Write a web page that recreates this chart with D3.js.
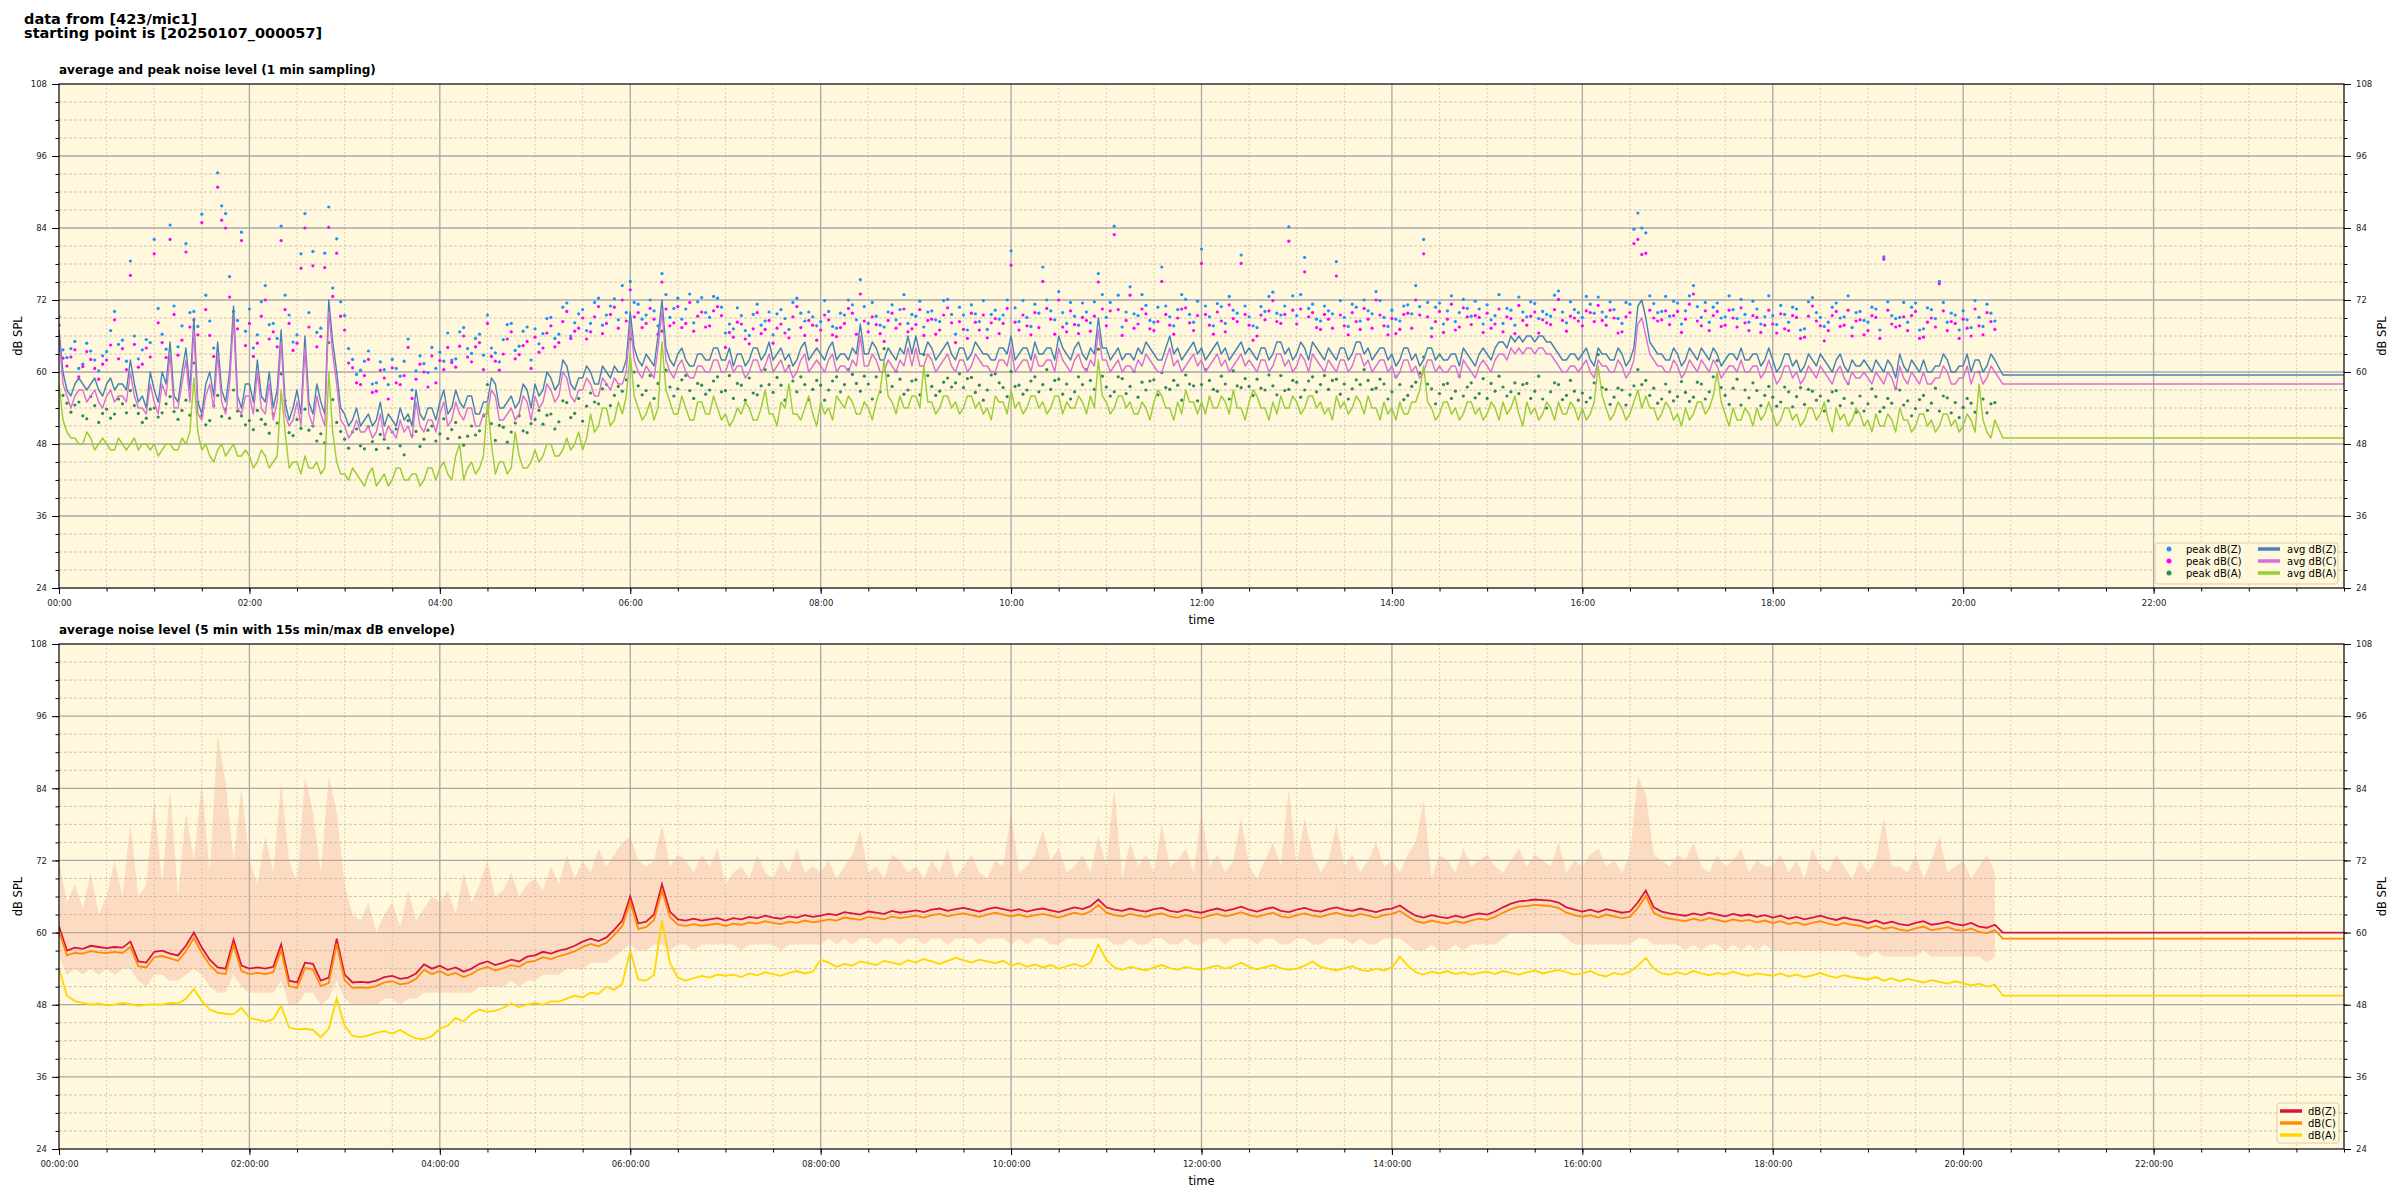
<!DOCTYPE html>
<html>
<head>
<meta charset="utf-8">
<script src="https://cdn.jsdelivr.net/npm/d3@7"></script>
<style>
  body { margin: 0; background: #fff; }
  svg { display: block; font-family: "DejaVu Sans", sans-serif; }
</style>
</head>
<body>
<svg id="chart" width="2400" height="1200"></svg>
<script>
// sample times in minutes after 00:00, data stops at 20:24, then a flat tail to 24:00
const topMinutes = d3.range(0, 1220.1, 2.5);
const bottomMinutes = d3.range(0, 1225, 5);
const tailMinutes = [1225, 1440];
const topLineMinutes = topMinutes.concat(tailMinutes);
const bottomLineMinutes = bottomMinutes.concat(tailMinutes);

// top panel: 1 min averages (read every 2.5 min), last two = flat tail
const avgZ = [
  67,60,57,56,58,59,58,57,58,59,57,56,58,59,57,58,58,57,62,58,55,56,54,60,
  57,55,60,58,65,56,55,60,64,57,69,55,53,58,60,56,65,57,55,60,71,56,54,58,
  58,55,62,56,55,60,54,57,67,55,52,54,57,53,66,55,53,58,55,53,72,65,60,54,
  53,51,52,54,51,52,53,51,52,55,51,53,52,51,54,52,53,51,57,53,52,54,54,52,
  55,57,53,54,57,55,54,56,56,53,53,55,55,59,58,54,54,55,56,54,55,58,57,54,
  58,56,57,60,59,57,58,62,61,58,57,59,59,61,60,58,58,61,60,59,61,60,60,62,
  70,64,62,61,63,62,61,66,72,64,62,61,63,64,62,61,61,63,63,62,62,64,64,62,
  62,64,61,63,63,61,62,64,64,62,63,65,62,63,64,62,63,61,62,64,65,62,63,64,
  63,62,64,65,62,63,63,62,64,63,68,63,63,65,64,62,62,64,63,62,64,63,66,63,
  66,63,63,65,64,62,63,64,65,63,62,64,64,62,63,65,64,63,63,62,62,64,64,63,
  66,62,63,64,64,62,65,63,63,64,64,62,66,64,63,62,64,65,63,62,64,63,69,64,
  64,62,63,64,62,63,63,62,64,63,65,64,63,62,62,64,66,63,64,62,63,64,65,63,
  64,62,63,64,65,63,64,62,63,64,65,63,64,63,62,64,64,62,63,65,65,63,64,62,
  63,65,64,62,65,64,63,62,64,63,62,64,64,62,63,65,65,63,64,62,63,64,64,62,
  63,61,62,64,64,62,63,61,62,64,64,62,63,62,62,63,63,61,64,63,62,61,63,64,
  63,62,64,65,65,64,66,65,66,65,66,66,65,66,66,65,65,64,63,62,62,63,63,62,
  63,64,62,61,64,63,63,62,62,64,63,61,62,64,71,72,69,65,64,63,63,62,62,64,
  63,61,62,64,63,62,64,63,62,64,63,61,62,63,63,62,64,62,62,63,63,61,62,64,
  62,60,61,63,63,61,62,60,61,63,62,61,63,62,61,60,62,63,61,60,62,61,61,62,
  61,60,62,61,60,62,61,59,63,61,60,62,61,60,62,60,60,61,61,63,62,60,60,61,
  61,63,60,62,62,60,61,63,62, 59.5,59.5];
const avgC = [
  66,58,56,54,56,57,57,55,56,57,55,54,56,57,55,56,56,55,60,56,54,54,53,58,
  55,53,58,56,63,54,54,58,62,55,67,53,52,56,58,54,63,55,53,58,69,54,53,56,
  56,53,60,54,53,58,52,55,65,53,51,52,55,51,64,53,51,56,53,51,70,63,58,52,
  51,49,50,52,50,50,51,49,50,53,49,51,50,49,52,50,51,49,55,51,50,52,52,50,
  53,55,51,52,55,53,52,54,54,51,51,53,53,57,56,52,52,53,54,52,53,56,55,52,
  56,54,55,58,57,55,56,60,59,56,55,57,57,59,58,56,56,59,58,57,59,58,58,60,
  68,62,60,59,61,60,59,64,70,62,60,59,61,62,60,59,59,61,61,60,60,62,62,60,
  60,62,60,61,61,59,60,62,62,60,61,63,60,61,62,60,61,59,60,62,63,60,61,62,
  61,60,62,63,60,61,61,60,62,61,66,61,61,63,62,60,60,62,61,60,62,61,64,61,
  64,61,61,63,62,60,61,62,63,61,60,62,62,60,61,63,62,61,61,60,60,62,62,61,
  64,60,61,62,62,60,63,61,61,62,62,60,64,62,61,60,62,63,61,60,62,61,67,62,
  62,60,61,62,60,61,61,60,62,61,63,62,61,60,60,62,64,61,62,60,61,62,63,61,
  62,60,61,62,63,61,62,60,61,62,63,61,62,61,60,62,62,60,61,63,63,61,62,60,
  61,63,62,60,63,62,61,60,62,61,60,62,62,60,61,63,63,61,62,60,61,62,62,60,
  61,59,60,62,62,60,61,59,60,62,62,60,61,60,60,61,61,59,62,61,60,59,61,62,
  61,60,62,63,63,62,64,63,64,63,64,64,63,64,64,63,63,62,61,60,60,61,61,60,
  61,62,60,59,62,61,61,60,60,62,61,59,60,62,68,69,66,63,62,61,61,60,60,62,
  61,59,60,62,61,60,62,61,60,62,61,59,60,61,61,60,62,60,60,61,61,59,60,62,
  60,58,59,61,61,59,60,58,59,61,60,59,61,60,59,58,60,61,59,58,60,59,59,60,
  59,58,60,59,58,60,59,57,61,59,58,60,59,58,60,58,58,59,59,61,60,58,58,59,
  59,61,58,60,60,58,59,61,60, 58,58];
const avgA = [
  58,52,50,49,49,48,48,50,49,47,48,49,48,47,47,49,48,47,48,49,47,48,48,47,
  48,46,47,48,48,47,47,49,48,50,59,50,47,48,46,45,47,48,46,47,48,46,46,47,
  46,44,45,47,46,44,45,46,57,50,44,45,45,43,46,44,44,45,43,44,60,50,45,43,
  43,42,44,43,42,41,43,44,41,42,43,41,42,44,44,42,42,43,43,41,42,44,44,42,
  44,45,43,42,46,48,42,44,45,43,44,46,55,48,43,45,45,43,44,50,46,44,44,45,
  47,45,46,48,48,46,46,47,49,47,48,50,47,49,53,50,51,54,54,51,52,55,53,56,
  63,56,54,52,53,55,52,54,65,57,55,53,53,56,54,52,52,55,55,53,53,56,54,52,
  53,51,52,54,53,55,54,52,52,54,57,53,53,51,55,54,58,53,53,52,54,56,53,51,
  55,53,54,52,56,55,54,56,55,53,53,55,54,52,55,57,62,56,55,53,56,54,54,56,
  56,54,61,55,55,53,54,56,56,54,55,53,54,56,56,54,55,53,54,52,56,55,55,53,
  57,54,55,53,54,56,56,54,55,53,54,56,56,53,55,54,54,56,55,53,56,54,62,56,
  55,53,54,56,56,54,55,53,53,55,54,52,55,57,56,54,54,52,55,53,57,55,55,53,
  55,53,56,54,54,56,55,53,57,54,54,52,55,57,56,54,54,52,55,53,56,54,54,56,
  55,53,54,56,56,54,55,53,54,52,56,54,55,53,54,56,55,53,56,54,54,52,55,53,
  54,52,55,53,53,55,55,57,61,55,54,52,53,55,55,53,54,52,53,55,55,53,54,52,
  53,55,54,52,55,53,54,56,53,51,55,53,54,52,53,55,54,52,55,53,53,55,54,52,
  54,52,53,55,61,56,54,52,53,55,54,52,53,55,57,54,56,54,54,52,53,55,54,52,
  53,51,54,52,53,55,55,53,54,56,60,55,53,51,54,52,52,54,53,51,54,52,53,55,
  53,51,52,54,54,52,53,51,52,54,54,52,53,55,52,50,54,52,53,51,52,54,53,51,
  52,50,53,51,51,53,52,50,54,52,52,50,51,53,53,51,52,50,51,53,53,51,52,50,
  51,53,52,50,58,52,50,49,52, 49,49];

// 1 min peaks (read every 2.5 min)
const peakZ = [
  69.2,63.7,62.4,63.9,65.1,60.6,61.3,64.8,63.5,62.0,60.2,62.7,63.4,66.9,70.1,64.6,65.3,61.8,78.5,66.0,62.2,63.7,65.4,64.9,
  82.1,70.6,66.3,63.8,84.5,71.0,64.2,67.7,81.4,69.9,70.1,67.6,86.3,72.8,68.5,64.0,93.2,87.7,86.4,75.9,70.1,68.6,83.3,66.8,
  70.5,64.0,66.2,71.7,74.4,67.9,68.1,65.6,84.3,72.8,69.5,65.0,66.2,79.7,86.4,69.9,80.1,66.6,67.3,79.8,87.5,74.0,82.2,71.7,
  69.4,63.9,62.1,59.6,60.3,61.8,63.5,58.0,58.2,61.7,60.4,57.9,62.1,60.6,59.3,61.8,65.5,57.0,60.2,62.7,61.4,59.9,64.1,60.6,
  63.3,61.8,66.5,62.0,62.2,66.7,67.4,63.9,63.1,65.6,66.3,62.8,69.5,64.0,63.2,61.7,65.4,67.9,68.1,63.6,64.3,66.8,67.5,62.0,
  67.2,64.7,66.4,68.9,69.1,65.6,66.3,70.8,71.5,66.0,68.2,69.7,70.4,66.9,68.1,71.6,72.3,67.8,69.5,71.0,72.2,68.7,74.4,69.9,
  75.1,71.6,71.3,68.8,69.5,72.0,70.2,67.7,76.4,72.9,69.1,70.6,72.3,68.8,70.5,73.0,68.2,71.7,72.4,69.9,69.1,72.6,72.3,70.8,
  66.5,68.0,67.2,70.7,69.4,66.9,66.1,69.6,71.3,67.8,68.5,70.0,66.2,69.7,70.4,68.9,67.1,71.6,72.3,69.8,68.5,70.0,69.2,67.7,
  68.4,71.9,70.1,67.6,67.3,69.8,69.5,72.0,71.2,68.7,75.4,70.9,68.1,71.6,69.3,67.8,67.5,70.0,71.2,68.7,70.4,72.9,68.1,69.6,
  69.3,71.8,67.5,70.0,70.2,68.7,68.4,71.9,72.1,69.6,66.3,70.8,69.5,67.0,71.2,69.7,68.4,71.9,67.1,69.6,70.3,68.8,69.5,72.0,
  80.2,70.7,68.4,71.9,69.1,67.6,71.3,69.8,77.5,72.0,70.2,68.7,73.4,69.9,68.1,71.6,69.3,67.8,71.5,70.0,68.2,71.7,76.4,72.9,
  69.1,71.6,84.3,72.8,67.5,70.0,74.2,69.7,69.4,72.9,71.1,68.6,68.3,70.8,77.5,71.0,69.2,67.7,70.4,72.9,72.1,69.6,68.3,71.8,
  80.5,71.0,69.2,67.7,71.4,70.9,68.1,72.6,70.3,69.8,79.5,71.0,69.2,67.7,67.4,70.9,70.1,72.6,73.3,69.8,69.5,71.0,84.2,72.7,
  69.4,72.9,79.1,70.6,71.3,68.8,68.5,71.0,70.2,69.7,78.4,71.9,69.1,67.6,71.3,70.8,68.5,72.0,70.2,69.7,73.4,71.9,69.1,67.6,
  70.3,68.8,68.5,71.0,71.2,69.7,74.4,70.9,82.1,71.6,67.3,70.8,71.5,68.0,70.2,72.7,68.4,69.9,72.1,70.6,69.3,71.8,70.5,68.0,
  71.2,68.7,69.4,72.9,68.1,70.6,70.3,67.8,72.5,70.0,69.2,71.7,71.4,68.9,70.1,69.6,69.3,72.8,73.5,70.0,68.2,71.7,70.4,69.9,
  69.1,72.6,71.3,69.8,72.5,70.0,69.2,71.7,70.4,68.9,68.1,71.6,71.3,83.8,86.5,84.0,83.2,72.7,71.4,69.9,70.1,72.6,69.3,71.8,
  71.5,68.0,70.2,72.7,74.4,70.9,69.1,71.6,68.3,70.8,71.5,69.0,69.2,72.7,70.4,68.9,72.1,69.6,68.3,71.8,70.5,68.0,69.2,72.7,
  69.4,67.9,71.1,69.6,68.3,70.8,70.5,67.0,67.2,71.7,72.4,69.9,69.1,67.6,68.3,70.8,71.5,69.0,69.2,72.7,67.4,69.9,70.1,68.6,
  68.3,70.8,70.5,67.0,79.2,71.7,69.4,68.9,69.1,71.6,68.3,70.8,71.5,67.0,67.2,70.7,70.4,68.9,75.1,71.6,68.3,69.8,69.5,67.0,
  70.2,68.7,67.4,71.9,69.1,67.6,71.3,69.8,68.5];
const peakC = [
  67.8,62.3,61.0,62.5,63.7,59.2,60.9,63.4,62.1,60.6,58.8,61.3,62.0,64.5,68.7,62.2,63.9,60.4,76.1,64.6,60.8,61.3,64.0,62.5,
  79.7,68.2,64.9,62.4,82.1,69.6,62.8,65.3,80.0,67.5,68.7,66.2,84.9,70.4,66.1,62.6,90.8,85.3,84.0,72.5,68.7,67.2,81.9,64.4,
  68.1,62.6,64.8,69.3,72.0,65.5,66.7,64.2,81.9,70.4,68.1,63.6,64.8,77.3,84.0,67.5,77.7,64.2,65.9,77.4,84.1,72.6,79.8,69.3,
  67.0,61.5,60.7,58.2,57.9,59.4,62.1,56.6,56.8,60.3,59.0,55.5,60.7,58.2,57.9,59.4,64.1,55.6,58.8,61.3,60.0,57.5,62.7,58.2,
  61.9,60.4,64.1,61.6,60.8,64.3,66.0,62.5,61.7,64.2,64.9,60.4,68.1,62.6,61.8,60.3,63.0,65.5,66.7,62.2,62.9,64.4,65.1,60.6,
  65.8,63.3,64.0,66.5,67.7,64.2,64.9,68.4,70.1,65.6,66.8,67.3,69.0,65.5,66.7,69.2,70.9,66.4,68.1,69.6,70.8,67.3,72.0,68.5,
  73.7,69.2,69.9,67.4,68.1,70.6,68.8,66.3,75.0,70.5,67.7,68.2,70.9,67.4,68.1,71.6,66.8,69.3,70.0,67.5,67.7,70.2,70.9,69.4,
  64.1,66.6,65.8,68.3,68.0,65.5,64.7,67.2,69.9,66.4,67.1,68.6,64.8,67.3,68.0,66.5,65.7,69.2,70.9,67.4,66.1,68.6,67.8,65.3,
  67.0,69.5,68.7,66.2,65.9,67.4,68.1,70.6,69.8,66.3,73.0,68.5,66.7,69.2,67.9,66.4,65.1,68.6,69.8,67.3,68.0,70.5,66.7,67.2,
  67.9,70.4,66.1,68.6,68.8,66.3,67.0,69.5,70.7,68.2,64.9,68.4,67.1,65.6,69.8,68.3,67.0,69.5,65.7,68.2,68.9,66.4,68.1,70.6,
  77.8,68.3,67.0,69.5,67.7,66.2,69.9,67.4,75.1,70.6,68.8,66.3,72.0,67.5,66.7,70.2,67.9,66.4,69.1,68.6,66.8,69.3,75.0,70.5,
  67.7,70.2,82.9,70.4,66.1,68.6,72.8,67.3,68.0,70.5,69.7,67.2,66.9,68.4,75.1,69.6,67.8,66.3,69.0,70.5,70.7,68.2,66.9,69.4,
  78.1,69.6,67.8,66.3,70.0,68.5,66.7,71.2,68.9,68.4,78.1,69.6,67.8,65.3,66.0,69.5,68.7,70.2,71.9,68.4,68.1,69.6,81.8,70.3,
  68.0,70.5,76.7,69.2,69.9,67.4,67.1,69.6,68.8,67.3,76.0,69.5,67.7,66.2,69.9,68.4,67.1,70.6,68.8,67.3,72.0,69.5,67.7,66.2,
  68.9,66.4,67.1,69.6,69.8,67.3,72.0,69.5,79.7,69.2,65.9,68.4,70.1,66.6,68.8,71.3,67.0,67.5,70.7,69.2,67.9,69.4,69.1,66.6,
  69.8,67.3,68.0,70.5,66.7,69.2,68.9,66.4,71.1,68.6,67.8,69.3,70.0,66.5,68.7,68.2,67.9,70.4,72.1,68.6,66.8,69.3,69.0,68.5,
  67.7,70.2,69.9,68.4,71.1,68.6,67.8,70.3,69.0,66.5,66.7,69.2,69.9,81.4,82.1,79.6,79.8,70.3,69.0,68.5,68.7,70.2,67.9,69.4,
  70.1,66.6,68.8,71.3,73.0,68.5,67.7,70.2,66.9,69.4,70.1,67.6,67.8,70.3,69.0,67.5,70.7,68.2,66.9,69.4,69.1,66.6,67.8,70.3,
  68.0,66.5,69.7,67.2,66.9,69.4,69.1,65.6,65.8,69.3,71.0,68.5,67.7,65.2,66.9,69.4,70.1,67.6,67.8,70.3,66.0,68.5,68.7,66.2,
  66.9,69.4,69.1,65.6,78.8,70.3,68.0,67.5,67.7,69.2,66.9,69.4,70.1,65.6,65.8,68.3,69.0,67.5,74.7,70.2,66.9,68.4,68.1,65.6,
  68.8,67.3,66.0,70.5,67.7,66.2,69.9,68.4,67.1];
const peakA = [
  63.6,56.1,54.8,53.3,54.5,55.0,52.7,52.2,55.9,54.4,51.6,53.1,53.8,52.3,53.0,55.5,54.7,53.2,56.9,54.4,53.1,51.6,52.3,53.8,
  54.0,52.5,53.2,54.7,55.9,53.4,52.1,53.6,55.3,52.8,61.5,55.0,52.7,51.2,51.9,54.4,56.1,52.6,53.8,52.3,57.0,53.5,52.7,51.2,
  51.9,50.4,53.6,52.1,51.3,49.8,53.0,51.5,59.7,55.2,49.9,49.4,52.1,50.6,53.8,50.3,51.0,48.5,49.7,48.2,64.9,55.4,51.6,50.1,
  48.8,47.3,50.0,50.5,47.7,47.2,50.9,48.4,47.1,49.6,48.8,47.3,50.0,50.5,47.7,46.2,51.9,49.4,50.1,47.6,48.8,50.3,51.0,48.5,
  49.7,52.2,48.9,50.4,51.6,49.1,47.8,49.3,51.0,49.5,50.2,52.7,57.9,51.4,48.6,51.1,50.8,48.3,50.0,51.5,52.7,50.2,49.9,51.4,
  52.1,53.6,51.3,52.8,53.0,50.5,51.7,55.2,54.9,52.4,53.1,55.6,51.8,54.3,56.5,55.0,54.7,57.2,57.9,54.4,56.1,57.6,56.8,58.7,
  65.5,60.0,57.7,56.2,56.9,59.4,55.6,58.1,66.8,60.3,57.5,56.0,57.2,58.7,59.4,56.9,55.6,58.1,57.8,56.3,57.0,58.5,59.2,56.7,
  56.9,59.4,55.6,58.1,57.8,55.3,59.0,56.5,56.2,57.7,60.4,57.9,56.6,59.1,57.8,55.3,61.0,58.5,56.7,59.2,57.9,55.4,57.1,58.6,
  57.8,55.3,57.0,58.5,59.2,56.7,57.9,60.4,59.6,58.1,56.8,59.3,58.0,55.5,59.2,56.7,63.9,59.4,57.6,60.1,58.8,56.3,57.0,58.5,
  58.7,56.2,62.9,59.4,57.6,56.1,56.8,58.3,59.0,57.5,58.2,59.7,57.4,58.9,59.1,56.6,57.8,55.3,57.0,59.5,59.7,58.2,57.4,55.9,
  60.1,57.6,57.8,56.3,57.0,58.5,59.2,56.7,57.9,60.4,57.1,58.6,58.8,56.3,58.0,55.5,56.7,59.2,57.9,60.4,58.6,57.1,63.8,59.3,
  57.5,56.0,56.7,59.2,58.9,56.4,57.6,60.1,55.8,58.3,57.0,58.5,58.7,56.2,59.9,57.4,57.1,58.6,57.8,55.3,59.5,58.0,57.7,55.2,
  57.9,60.4,58.6,57.1,56.8,59.3,58.0,55.5,60.2,57.7,57.4,58.9,57.6,56.1,58.8,57.3,57.0,59.5,57.7,56.2,59.4,56.9,57.1,58.6,
  58.3,55.8,57.0,58.5,59.2,56.7,57.9,59.4,57.1,58.6,58.8,56.3,58.0,55.5,57.2,58.7,57.9,60.4,58.6,57.1,57.3,58.8,58.0,55.5,
  56.7,59.2,57.9,55.4,56.1,57.6,58.3,59.8,62.5,58.0,57.2,54.7,56.4,57.9,58.1,55.6,56.8,59.3,56.0,57.5,58.2,55.7,56.4,58.9,
  55.6,58.1,56.8,59.3,57.5,56.0,56.7,58.2,56.4,57.9,58.1,55.6,56.8,59.3,55.5,54.0,56.7,58.2,57.9,55.4,56.1,58.6,56.8,55.3,
  56.5,55.0,55.7,58.2,62.9,57.4,57.1,54.6,55.8,57.3,57.0,54.5,56.2,57.7,60.4,57.9,58.6,56.1,57.3,54.8,55.5,58.0,56.7,55.2,
  55.9,58.4,56.6,55.1,55.8,58.3,58.0,55.5,56.7,59.2,61.9,57.4,56.1,54.6,57.3,58.8,54.5,57.0,55.7,58.2,56.9,54.4,56.1,57.6,
  55.8,54.3,55.0,57.5,56.7,54.2,55.9,57.4,54.6,57.1,56.8,55.3,56.0,53.5,55.2,56.7,56.9,54.4,55.6,58.1,54.8,53.3,56.0,53.5,
  54.7,57.2,55.9,53.4,54.1,55.6,54.8,57.3,57.0,54.5,55.2,52.7,53.9,55.4,56.1,53.6,54.8,57.3,53.5,56.0,55.7,53.2,54.9,52.4,
  54.1,55.6,54.8,53.3,60.0,55.5,53.2,54.7,54.9];

// bottom panel: 5 min averages, last two = flat tail
const dbZ = [61.0,57.0,57.5,57.3,57.8,57.6,57.4,57.6,57.5,58.5,55.2,55.0,
  56.8,57.0,56.5,56.2,57.8,60.0,57.5,55.5,54.2,54.0,58.8,54.5,
  54.0,54.2,54.0,54.3,58.0,52.0,51.7,55.0,54.8,52.0,52.5,59.0,
  53.0,51.7,51.8,51.7,52.0,52.6,52.8,52.3,52.5,53.2,54.7,54.0,
  54.5,53.8,54.2,53.5,54.0,54.8,55.2,54.6,55.0,55.5,55.2,56.0,
  56.2,56.8,56.5,57.0,57.3,57.8,58.5,59.0,58.6,59.2,60.5,62.0,
  66.0,61.5,61.8,63.0,68.0,63.5,62.2,62.0,62.3,62.0,62.2,62.4,
  62.0,62.4,62.2,62.6,62.4,62.8,62.5,62.3,62.7,62.5,62.9,62.6,
  62.8,63.1,62.9,63.4,63.2,63.0,63.5,63.3,63.1,63.6,63.3,63.5,
  63.7,63.4,63.8,64.0,63.6,63.9,64.1,63.8,63.5,63.9,64.2,63.9,
  63.6,63.9,63.5,63.8,64.0,63.7,63.4,63.8,64.2,63.9,64.4,65.5,
  64.2,63.8,63.6,64.0,63.7,63.5,63.9,64.1,63.6,63.4,63.8,63.5,
  63.3,63.7,64.0,63.6,63.9,64.3,63.8,63.5,63.9,64.2,63.6,63.4,
  63.8,64.1,63.7,63.5,63.9,64.2,63.8,63.6,64.0,63.7,63.4,63.8,
  64.0,64.5,63.6,62.8,62.5,62.9,62.6,62.4,62.8,62.5,62.9,63.2,
  63.0,63.5,64.2,64.8,65.2,65.3,65.5,65.4,65.3,65.0,64.2,63.8,
  63.5,63.8,63.4,63.9,63.6,63.3,63.5,65.0,67.0,64.2,63.5,63.2,
  63.0,62.8,63.2,62.9,63.3,63.0,62.7,63.1,62.8,63.0,62.6,62.9,
  62.5,62.8,62.3,62.6,62.2,62.5,62.8,62.4,62.1,62.5,62.2,62.0,
  61.6,62.0,61.5,61.8,61.4,61.2,61.6,61.9,61.3,61.5,61.8,61.4,
  61.2,61.6,61.0,60.8,61.3, 60.0,60.0];
const dbC = [60.2,56.2,56.6,56.5,56.9,56.7,56.6,56.8,56.6,57.6,54.4,54.2,
  55.9,56.1,55.7,55.3,56.9,59.1,56.6,54.6,53.3,53.1,57.9,53.6,
  53.1,53.3,53.1,53.4,57.1,51.1,50.8,54.1,53.9,51.1,51.6,58.1,
  52.1,50.8,50.9,50.8,51.1,51.7,51.9,51.4,51.6,52.3,53.8,53.1,
  53.6,52.9,53.3,52.6,53.1,53.9,54.3,53.7,54.1,54.6,54.3,55.1,
  55.3,55.9,55.6,56.1,56.4,56.9,57.6,58.1,57.7,58.3,59.6,61.1,
  65.1,60.6,60.9,62.1,67.0,62.6,61.3,61.1,61.4,61.1,61.3,61.5,
  61.1,61.5,61.3,61.7,61.5,61.9,61.6,61.4,61.8,61.6,62.0,61.7,
  61.9,62.2,62.0,62.5,62.3,62.1,62.6,62.4,62.2,62.7,62.4,62.6,
  62.8,62.5,62.9,63.1,62.7,63.0,63.2,62.9,62.6,63.0,63.3,63.0,
  62.7,63.0,62.6,62.9,63.1,62.8,62.5,62.9,63.3,63.0,63.5,64.6,
  63.3,62.9,62.7,63.1,62.8,62.6,63.0,63.2,62.7,62.5,62.9,62.6,
  62.4,62.8,63.1,62.7,63.0,63.4,62.9,62.6,63.0,63.3,62.7,62.5,
  62.9,63.2,62.8,62.6,63.0,63.3,62.9,62.7,63.1,62.8,62.5,62.9,
  63.1,63.6,62.7,61.9,61.6,62.0,61.7,61.5,61.9,61.6,62.0,62.3,
  62.1,62.6,63.3,63.9,64.3,64.4,64.6,64.5,64.4,64.1,63.3,62.9,
  62.6,62.9,62.5,63.0,62.7,62.4,62.6,64.1,66.1,63.3,62.6,62.3,
  62.1,61.9,62.3,62.0,62.4,62.1,61.8,62.2,61.9,62.1,61.7,62.0,
  61.6,61.9,61.4,61.7,61.3,61.6,61.9,61.5,61.2,61.6,61.3,61.1,
  60.7,61.1,60.6,60.9,60.5,60.3,60.7,61.0,60.4,60.6,60.9,60.5,
  60.3,60.7,60.1,59.9,60.4, 59.0,59.0];
const dbA = [54.0,49.5,48.6,48.3,48.0,48.2,47.9,48.0,48.3,48.1,47.8,48.0,
  48.1,48.0,48.3,48.2,49.0,50.6,48.6,47.2,46.7,46.5,46.4,47.5,
  45.8,45.5,45.2,45.6,47.8,44.2,43.9,44.0,43.8,42.6,44.0,49.0,
  44.5,42.8,42.6,42.9,43.3,43.6,43.2,43.8,43.0,42.4,42.3,42.8,
  44.0,44.5,45.8,45.2,46.5,47.2,46.8,47.0,47.5,48.2,47.6,48.0,
  48.3,48.0,48.6,48.5,49.0,49.5,49.2,50.0,49.8,51.0,50.5,51.5,
  57.0,52.2,52.0,53.0,62.0,55.0,52.5,52.0,52.4,52.8,52.5,53.0,
  52.8,53.0,52.6,53.2,52.9,53.4,53.1,52.8,53.3,53.6,53.2,53.5,
  55.5,55.0,54.3,54.8,54.5,55.2,54.9,54.6,55.3,55.0,54.7,55.4,
  55.0,55.6,55.2,54.8,55.3,55.8,55.4,55.0,55.5,55.2,54.9,55.3,
  54.5,54.9,54.3,54.7,54.2,54.6,54.0,54.4,54.8,54.3,55.0,58.0,
  55.5,54.2,53.8,54.3,54.0,53.7,54.2,54.6,54.1,53.8,54.3,54.0,
  53.8,54.2,54.5,54.0,54.4,55.0,54.3,53.9,54.2,54.6,54.1,53.8,
  54.0,54.5,55.2,54.3,54.0,53.7,54.1,54.4,53.8,53.6,54.0,53.7,
  54.2,56.0,54.5,53.4,53.0,53.5,53.2,53.6,53.1,53.4,53.0,53.3,
  53.5,53.1,53.6,53.3,53.0,53.4,53.7,53.2,53.5,53.8,53.4,53.0,
  53.2,53.6,53.0,52.7,53.3,53.0,53.5,54.5,55.8,54.0,53.2,53.0,
  53.4,53.0,53.6,53.2,52.9,53.3,53.0,53.5,53.1,52.8,53.2,53.0,
  52.8,53.2,52.7,53.0,52.6,52.9,53.3,52.8,52.5,52.9,52.6,52.4,
  52.2,52.6,52.0,52.4,51.9,52.3,52.0,51.7,52.1,51.8,51.5,51.9,
  51.6,51.2,51.5,51.0,51.3, 49.5,49.5];

// 15 s min/max envelope (read every 5 min)
const envMax = [72,65,68,64,70,63,66,72,66,78,66,68, 82,68,84,66,80,72,85,70,93,85,72,84,
  72,68,76,70,85,72,68,86,80,70,86,80, 68,63,62,65,60,63,65,61,67,62,64,66,
  65,67,63,70,65,68,72,66,67,70,66,68, 69,67,71,68,73,69,72,70,74,71,73,75,
  76,72,71,72,78,71,73,72,70,73,71,74, 68,70,71,69,73,70,69,72,70,74,70,71,
  70,72,69,71,73,77,70,71,69,73,72,70, 71,69,72,70,74,69,71,73,70,69,72,71,
  80,70,71,73,77,72,74,70,71,73,70,76, 71,84,69,75,71,73,70,78,71,72,74,70,
  80,71,73,70,72,79,71,69,72,75,71,84, 71,79,73,70,72,78,71,73,70,72,75,71,
  72,70,73,75,82,69,73,72,70,74,71,72, 73,71,70,72,74,71,73,72,71,75,70,72,
  71,73,74,71,72,70,73,86,83,73,72,71, 73,72,75,71,70,73,71,72,74,70,72,71,
  71,73,70,72,69,74,71,70,73,71,69,72, 70,72,79,71,71,70,73,69,72,76,70,71,
  72,69,71,73,70];
const envMin = [56,53,54,53,54,53,54,53,54,54,52,51, 53,53,52,52,53,54,53,51,50,50,53,51,
  50,50,50,50,52,48,48,50,50,48,49,52, 49,48,48,48,48,49,49,48,49,49,50,50,
  50,50,50,50,50,51,51,51,51,52,51,52, 52,53,53,53,54,54,54,55,55,55,56,57,
  58,57,57,58,58,57,58,58,57,58,58,58, 58,58,57,58,58,58,58,57,58,58,58,58,
  58,59,58,59,58,59,59,58,59,59,58,59, 59,58,59,59,58,59,59,59,58,59,59,59,
  58,59,58,59,59,58,58,59,59,59,59,59, 59,58,58,59,58,58,59,59,58,58,59,58,
  58,59,59,58,59,59,59,58,59,59,58,58, 59,59,58,58,59,59,59,58,59,58,58,59,
  59,59,58,57,57,58,57,57,58,57,58,58, 58,58,59,60,60,60,60,60,60,60,59,58,
  58,58,58,58,58,58,58,59,59,58,58,58, 58,57,58,57,58,58,57,58,57,58,57,58,
  57,57,57,57,57,57,57,57,57,57,57,56, 56,57,56,56,56,56,56,57,56,56,56,56,
  56,56,56,55,56];

const majorHours = d3.range(0, 1440, 120);
const minorHalfHours = d3.range(0, 1441, 30);
const majorDb = d3.range(24, 109, 12);
const minorDb = d3.range(24, 109, 3);

const topSeries = [
  { name: "avg dB(Z)", values: avgZ, color: "#4682b4" },
  { name: "avg dB(C)", values: avgC, color: "#da70d6" },
  { name: "avg dB(A)", values: avgA, color: "#9acd32" }
];
const topPeaks = [
  { name: "peak dB(Z)", values: peakZ, color: "#1e90ff" },
  { name: "peak dB(C)", values: peakC, color: "#ff00ff" },
  { name: "peak dB(A)", values: peakA, color: "#2e8b57" }
];
const bottomSeries = [
  { name: "dB(Z)", values: dbZ, color: "#dc143c" },
  { name: "dB(C)", values: dbC, color: "#ff8c00" },
  { name: "dB(A)", values: dbA, color: "#ffd700" }
];

const plotLeft = 59, plotRight = 2344;
const bg = "#fff8dc";
const pad2 = d3.format("02");
const svg = d3.select("#chart");

svg.append("rect").attr("width", 2400).attr("height", 1200).attr("fill", "#fff");

const x = d3.scaleLinear([0, 1440], [plotLeft, plotRight]);

svg.append("text").attr("x", 24).attr("y", 24)
  .attr("font-size", "14.5px").attr("font-weight", "bold").text("data from [423/mic1]");
svg.append("text").attr("x", 24).attr("y", 38)
  .attr("font-size", "14.5px").attr("font-weight", "bold").text("starting point is [20250107_000057]");

function panel(id, top, bottom, title, tickFmt) {
  const y = d3.scaleLinear([24, 108], [bottom, top]);
  const g = svg.append("g");
  g.append("rect").attr("x", plotLeft).attr("y", top)
    .attr("width", plotRight - plotLeft).attr("height", bottom - top).attr("fill", bg);

  // minor grid
  g.selectAll(".mgx").data(minorHalfHours.filter(m => m % 120 !== 0)).join("line")
    .attr("x1", d => x(d)).attr("x2", d => x(d)).attr("y1", top).attr("y2", bottom)
    .attr("stroke", "#cfc6ad").attr("stroke-width", 0.8).attr("stroke-dasharray", "2,2");
  g.selectAll(".mgy").data(minorDb.filter(v => v % 12 !== 0)).join("line")
    .attr("x1", plotLeft).attr("x2", plotRight).attr("y1", d => y(d)).attr("y2", d => y(d))
    .attr("stroke", "#bdb7a6").attr("stroke-width", 0.8).attr("stroke-dasharray", "3,2");
  // major grid
  g.selectAll(".Mgx").data(majorHours.filter(m => m > 0)).join("line")
    .attr("x1", d => x(d)).attr("x2", d => x(d)).attr("y1", top).attr("y2", bottom)
    .attr("stroke", "#a8a8a8").attr("stroke-width", 1.3);
  g.selectAll(".Mgy").data(majorDb.filter(v => v > 24 && v < 108)).join("line")
    .attr("x1", plotLeft).attr("x2", plotRight).attr("y1", d => y(d)).attr("y2", d => y(d))
    .attr("stroke", "#a8a8a8").attr("stroke-width", 1.3);

  svg.append("clipPath").attr("id", id).append("rect")
    .attr("x", plotLeft).attr("y", top).attr("width", plotRight - plotLeft).attr("height", bottom - top);
  const data = svg.append("g").attr("clip-path", `url(#${id})`);

  const axes = svg.append("g");
  const styleAxis = sel => {
    sel.select(".domain").remove();
    sel.selectAll("text").attr("font-family", "DejaVu Sans").attr("font-size", "8.5px").attr("fill", "#222");
    sel.selectAll("line").attr("stroke", "#000");
  };
  axes.append("g").attr("transform", `translate(${plotLeft},0)`)
    .call(d3.axisLeft(y).tickValues(minorDb).tickSize(3.5).tickFormat("")).call(styleAxis);
  axes.append("g").attr("transform", `translate(${plotLeft},0)`)
    .call(d3.axisLeft(y).tickValues(majorDb).tickSize(7).tickPadding(5)).call(styleAxis);
  axes.append("g").attr("transform", `translate(${plotRight},0)`)
    .call(d3.axisRight(y).tickValues(minorDb).tickSize(3.5).tickFormat("")).call(styleAxis);
  axes.append("g").attr("transform", `translate(${plotRight},0)`)
    .call(d3.axisRight(y).tickValues(majorDb).tickSize(7).tickPadding(5)).call(styleAxis);
  axes.append("g").attr("transform", `translate(0,${bottom})`)
    .call(d3.axisBottom(x).tickValues(minorHalfHours).tickSize(3.5).tickFormat("")).call(styleAxis);
  axes.append("g").attr("transform", `translate(0,${bottom})`)
    .call(d3.axisBottom(x).tickValues(majorHours).tickSize(6).tickPadding(6).tickFormat(tickFmt)).call(styleAxis);

  svg.append("text").attr("x", plotLeft).attr("y", top - 10)
    .attr("font-size", "12px").attr("font-weight", "bold").text(title);
  svg.append("text").attr("x", (plotLeft + plotRight) / 2).attr("y", bottom + 36)
    .attr("text-anchor", "middle").attr("font-size", "11.5px").text("time");
  [22, 2386].forEach(lx => svg.append("text")
    .attr("transform", `translate(${lx},${(top + bottom) / 2}) rotate(-90)`)
    .attr("text-anchor", "middle").attr("font-size", "11.5px").text("dB SPL"));

  return { y, data, top, bottom };
}

const fmtTop = m => `${pad2(Math.floor(m / 60))}:${pad2(m % 60)}`;
const fmtBottom = m => `${pad2(Math.floor(m / 60))}:${pad2(m % 60)}:00`;

// ---- top panel
const p1 = panel("clipTop", 84, 588, "average and peak noise level (1 min sampling)", fmtTop);
topPeaks.forEach(s => {
  p1.data.append("g").selectAll("circle").data(s.values).join("circle")
    .attr("cx", (d, i) => x(topMinutes[i])).attr("cy", d => p1.y(d))
    .attr("r", 1.6).attr("fill", s.color);
});
topSeries.forEach(s => {
  const line = d3.line().x((d, i) => x(topLineMinutes[i])).y(d => p1.y(d));
  p1.data.append("path").attr("d", line(s.values))
    .attr("fill", "none").attr("stroke", s.color).attr("stroke-width", 1.4)
    .attr("stroke-linejoin", "round");
});

// ---- bottom panel
const p2 = panel("clipBottom", 644, 1149, "average noise level (5 min with 15s min/max dB envelope)", fmtBottom);
const env = d3.area()
  .x((d, i) => x(bottomMinutes[i]))
  .y0((d, i) => p2.y(envMin[i]))
  .y1(d => p2.y(d));
p2.data.append("path").attr("d", env(envMax))
  .attr("fill", "#f4a08a").attr("fill-opacity", 0.32);
bottomSeries.forEach(s => {
  const line = d3.line().x((d, i) => x(bottomLineMinutes[i])).y(d => p2.y(d));
  p2.data.append("path").attr("d", line(s.values))
    .attr("fill", "none").attr("stroke", s.color).attr("stroke-width", 1.8);
});

// frames
[p1, p2].forEach(p => svg.append("rect").attr("x", plotLeft).attr("y", p.top)
  .attr("width", plotRight - plotLeft).attr("height", p.bottom - p.top)
  .attr("fill", "none").attr("stroke", "#000").attr("stroke-width", 1.2));

// ---- legends
const leg1 = svg.append("g").attr("font-size", "10px");
leg1.append("rect").attr("x", 2155).attr("y", 543).attr("width", 183).attr("height", 41).attr("rx", 3)
  .attr("fill", bg).attr("fill-opacity", 0.85).attr("stroke", "#e0cda0");
topPeaks.forEach((s, i) => {
  const ry = 549 + i * 12;
  leg1.append("circle").attr("cx", 2169).attr("cy", ry).attr("r", 2.5).attr("fill", s.color);
  leg1.append("text").attr("x", 2186).attr("y", ry + 3.5).text(s.name);
});
topSeries.forEach((s, i) => {
  const ry = 549 + i * 12;
  leg1.append("line").attr("x1", 2258).attr("x2", 2280).attr("y1", ry).attr("y2", ry)
    .attr("stroke", s.color).attr("stroke-width", 3.5);
  leg1.append("text").attr("x", 2287).attr("y", ry + 3.5).text(s.name);
});

const leg2 = svg.append("g").attr("font-size", "10px");
leg2.append("rect").attr("x", 2277).attr("y", 1103).attr("width", 62).attr("height", 40).attr("rx", 3)
  .attr("fill", bg).attr("fill-opacity", 0.85).attr("stroke", "#e0cda0");
bottomSeries.forEach((s, i) => {
  const ry = 1111 + i * 12;
  leg2.append("line").attr("x1", 2280).attr("x2", 2302).attr("y1", ry).attr("y2", ry)
    .attr("stroke", s.color).attr("stroke-width", 3.5);
  leg2.append("text").attr("x", 2308).attr("y", ry + 3.5).text(s.name);
});
</script>
</body>
</html>
